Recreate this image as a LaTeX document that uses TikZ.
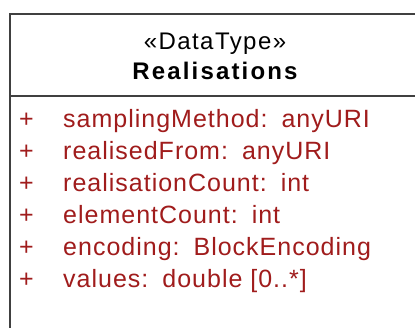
\documentclass[tikz,border=0pt]{standalone}
\usepackage{fontspec}
\setmainfont{Liberation Sans}[LetterSpace=4]
\newfontfamily\headreg{Liberation Sans}[LetterSpace=6]
\newfontfamily\headbold{Liberation Sans Bold}[LetterSpace=9]
\definecolor{attrred}{RGB}{160,28,28}
\definecolor{frame}{RGB}{64,64,64}
\newcommand{\colgap}{:\hspace{14pt}}
\tikzset{
  classframe/.style={draw=frame, line width=1.7pt},
  headtext/.style={inner sep=0pt, anchor=base, text=black},
  vis/.style={inner sep=0pt, anchor=base west, font=\fontsize{25}{30}\selectfont, text=attrred},
  attr/.style={inner sep=0pt, anchor=base west, font=\fontsize{25}{30}\selectfont, text=attrred},
}
\begin{document}
\begin{tikzpicture}[x=1pt, y=-1pt]
  \useasboundingbox (0,0) rectangle (415,327);
  \clip (0,0) rectangle (415,327);
  \fill[white] (0,0) rectangle (415,327);
  % class frame, running past the right and bottom edges
  \draw[classframe] (10,345) -- (10,14) -- (440,14);
  \draw[classframe] (10,96) -- (440,96);
  % header
  \node[headtext, font=\fontsize{24}{30}\headreg] (stereo) at (215,49) {«DataType»};
  \node[headtext, font=\fontsize{24}{30}\headbold] (cname) at (215,79) {Realisations};
  % attributes
  \foreach \i/\t in {0/{samplingMethod\colgap anyURI},
                     1/{realisedFrom\colgap anyURI},
                     2/{realisationCount\colgap int},
                     3/{elementCount\colgap int},
                     4/{encoding\colgap BlockEncoding},
                     5/{values\colgap double [0..*]}} {
    \node[vis] (v\i) at (19,127+32*\i) {+};
    \node[attr] (a\i) at (63,127+32*\i) {\t};
  }
\end{tikzpicture}
\end{document}
